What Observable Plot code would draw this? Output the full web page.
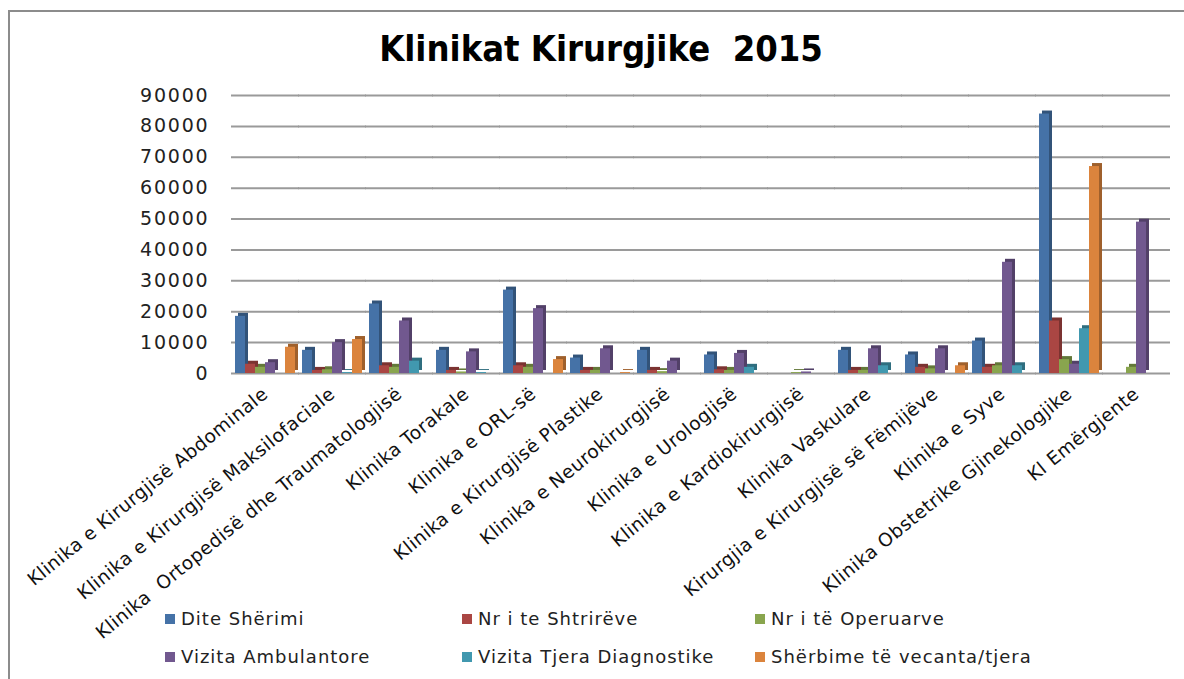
<!DOCTYPE html>
<html>
<head>
<meta charset="utf-8">
<script src="https://cdn.jsdelivr.net/npm/d3@7"></script>
<script src="https://cdn.jsdelivr.net/npm/@observablehq/plot@0.6"></script>
<style>
  html, body { margin: 0; padding: 0; background: #fff; }
  #wrap { position: relative; width: 1184px; height: 679px; overflow: hidden; font-family: "DejaVu Sans", sans-serif; }
  #frame { position: absolute; left: 8px; top: 10px; width: 1200px; height: 700px; border-left: 2px solid #8c8c8c; border-top: 2px solid #8c8c8c; }
  #title { position: absolute; left: 0; width: 1202px; top: 28px; text-align: center; font-family: "DejaVu Sans", sans-serif; font-weight: bold; font-size: 36px; color: #000; white-space: pre; transform: scaleX(0.9); transform-origin: 601px 0; }
  #chart { position: absolute; left: 0; top: 0; }
  #legend { position: absolute; left: 165px; top: 608px; display: grid; grid-template-columns: 297px 293px 300px; row-gap: 17px; font-size: 18px; color: #222; letter-spacing: 1px; }
  .item { display: flex; align-items: center; height: 21px; white-space: pre; }
  .sw { width: 10px; height: 10px; margin-right: 6px; display: inline-block; }
  #chart g[aria-label="y-axis tick label"] text { letter-spacing: 1.8px; }
  #chart g[aria-label="fx-axis tick label"] text { letter-spacing: 0.5px; }
</style>
</head>
<body>
<div id="wrap">
  <div id="frame"></div>
  <div id="chart"></div>
  <div id="title">Klinikat Kirurgjike  2015</div>
  <div id="legend"></div>
</div>
<script>
const categories = [
  "Klinika e Kirurgjisë Abdominale",
  "Klinika e Kirurgjisë Maksilofaciale",
  "Klinika  Ortopedisë dhe Traumatologjisë",
  "Klinika Torakale",
  "Klinika e ORL-së",
  "Klinika e Kirurgjisë Plastike",
  "Klinika e Neurokirurgjisë",
  "Klinika e Urologjisë",
  "Klinika e Kardiokirurgjisë",
  "Klinika Vaskulare",
  "Kirurgjia e Kirurgjisë së Fëmijëve",
  "Klinika e Syve",
  "Klinika Obstetrike Gjinekologjike",
  "Kl Emërgjente"
];
const series = ["Dite Shërimi", "Nr i te Shtrirëve", "Nr i të Operuarve", "Vizita Ambulantore", "Vizita Tjera Diagnostike", "Shërbime të vecanta/tjera"];
const colors = ["#4572A7", "#AA4643", "#89A54E", "#71588F", "#4198AF", "#DB843D"];

const diteSherimi = [18500, 7500, 22500, 7500, 27000, 5000, 7500, 6000, 0, 7500, 6000, 10500, 84000, 0];
const shtrireve   = [3000, 1000, 2500, 1000, 2500, 1000, 1000, 1200, 0, 1000, 2000, 2000, 17000, 0];
const operuarve   = [2000, 1200, 2000, 500, 2000, 1000, 600, 1000, 300, 1000, 1500, 2500, 4500, 2000];
const ambulantore = [3500, 10000, 17000, 7000, 21000, 8000, 4000, 6500, 500, 8000, 8000, 36000, 3000, 49000];
const diagnostike = [0, 300, 4000, 300, 0, 0, 0, 2000, 0, 2500, 0, 2500, 14500, 0];
const sherbime    = [8500, 11000, 0, 0, 4500, 300, 0, 0, 0, 0, 2500, 0, 67000, 0];
const yTicks = [0, 10000, 20000, 30000, 40000, 50000, 60000, 70000, 80000, 90000];

const seriesValues = [diteSherimi, shtrireve, operuarve, ambulantore, diagnostike, sherbime];
const rows = categories.flatMap((c, i) =>
  series.map((s, j) => ({category: c, series: s, value: seriesValues[j][i]}))
).filter(d => d.value > 0);

const darkColors = colors.map(c => d3.color(c).darker(0.9).formatHex());

const chart = Plot.plot({
  width: 1184,
  height: 679,
  marginTop: 95,
  marginBottom: 306,
  marginLeft: 231,
  marginRight: 14,
  style: {fontFamily: "DejaVu Sans, sans-serif", background: "transparent", overflow: "visible"},
  fx: {domain: categories, padding: 0.07, label: null},
  x: {domain: series, padding: 0, axis: null},
  y: {domain: [0, 90000], label: null},
  color: {domain: series, range: colors},
  marks: [
    Plot.ruleY(yTicks, {stroke: "#9a9a9a", strokeWidth: 2, insetLeft: -3, insetRight: -3}),
    Plot.barY(rows, {fx: "category", x: "series", y: "value", fill: d => darkColors[series.indexOf(d.series)], dx: 3, dy: -3}),
    Plot.barY(rows, {fx: "category", x: "series", y: "value", fill: "series"}),
    Plot.axisY({ticks: yTicks, tickFormat: d => String(d), tickSize: 0, tickPadding: 25, fontSize: 19, fill: "#222", label: null}),
    Plot.axisFx({anchor: "bottom", tickRotate: -39, tickSize: 0, tickPadding: 18, fontSize: 18.5, fill: "#111", label: null})
  ]
});
document.getElementById("chart").appendChild(chart);

const legend = document.getElementById("legend");
series.forEach((s, i) => {
  const item = document.createElement("div");
  item.className = "item";
  const sw = document.createElement("span");
  sw.className = "sw";
  sw.style.background = colors[i];
  item.appendChild(sw);
  item.appendChild(document.createTextNode(s));
  legend.appendChild(item);
});
</script>
</body>
</html>
